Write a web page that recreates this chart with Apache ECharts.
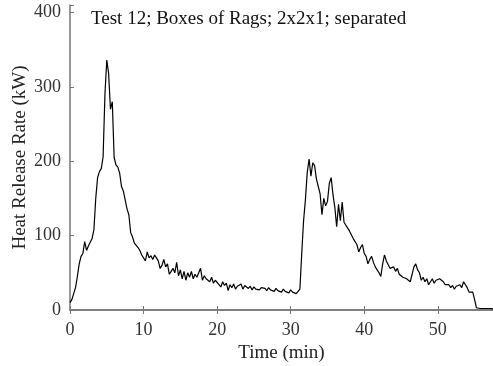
<!DOCTYPE html>
<html>
<head>
<meta charset="utf-8">
<script src="https://cdn.jsdelivr.net/npm/echarts@6/dist/echarts.min.js"></script>
<style>html,body{margin:0;padding:0;background:#fff}#c{width:493px;height:366px}</style>
</head>
<body>
<div id="c"></div>
<script>
const titleText = 'Test 12; Boxes of Rags; 2x2x1; separated';
const xName = 'Time (min)';
const yName = 'Heat Release Rate (kW)';
const xTicks = [0, 10, 20, 30, 40, 50];
const yTicks = [0, 100, 200, 300, 400];

const hrr1 = [ // t = 0 .. 10, step 0.25
  10,14,22,30,45,62,72,76,92,80,86,88,96,108,150,178,186,190,206,290,336,318,270,280,205,195,192,184,166,160,148,136,128,104,98,90,92,84,80,74,76
];
const hrr2 = [ // t = 10.25 .. 20
  66,78,70,73,68,74,70,66,56,60,68,58,62,48,52,56,50,64,46,54,42,52,40,50,44,52,42,48,44,50,56,40,46,42,44,38,44,36,40,42
];
const hrr3 = [ // t = 20.25 .. 31.25
  34,31,38,33,36,26,34,30,35,28,32,30,35,28,33,34,29,32,27,31,28,30,27,30,28,29,26,30,27,28,25,29,26,27,24,28,25,26,23,27,24,26,22,25,28
];
const hrr4 = [ // t = 31.5 .. 42.25
  76,120,148,185,203,180,198,194,176,166,156,128,150,140,146,170,178,155,138,112,142,120,145,118,114,110,106,108,96,92,88,78,84,88,76,72,62,68,72,64,58,54,50,45
];
const hrr5 = [ // t = 42.5 .. 57.5
  62,74,66,64,56,54,58,52,56,48,50,44,46,42,42,38,40,58,62,54,50,40,44,38,42,34,32,42,36,40,38,42,44,38,34,32,34,30,33,28,32,30,34,30,38,36,30,24,26,24,14,3,1,2,1,2,1,2,1,2,1
];

const hrr = hrr1.concat(hrr2, hrr3, hrr4, hrr5);
const data = hrr.map((v, i) => [i * 0.25, v]);

const axisColor = '#777';
const font = 'Liberation Serif';

const chart = echarts.init(document.getElementById('c'), null, {renderer: 'canvas'});
chart.setOption({
  animation: false,
  backgroundColor: '#fff',
  grid: {left: 70, right: 0, top: 5, bottom: 56, containLabel: false, outerBoundsMode: 'none'},
  graphic: [{
    type: 'text', left: 91, top: 10,
    style: {text: titleText, font: '19px "Liberation Serif"', fill: '#111'}
  }],
  xAxis: [{
    type: 'value', min: 0, max: 57.5, interval: 10,
    name: xName, nameLocation: 'middle', nameGap: 34, nameMoveOverlap: false,
    nameTextStyle: {fontFamily: font, fontSize: 19, color: '#222'},
    axisLine: {show: true, onZero: false, lineStyle: {color: axisColor, width: 1.5}},
    axisTick: {show: true, inside: true, length: 4, lineStyle: {color: axisColor}},
    axisLabel: {fontFamily: font, fontSize: 18, color: '#333', margin: 11,
      formatter: v => xTicks.includes(v) ? String(v) : ''},
    splitLine: {show: false}
  }, {
    type: 'value', position: 'top', min: 0, max: 57.5, interval: 10,
    axisLine: {show: true, lineStyle: {color: axisColor, width: 1.5}},
    axisTick: {show: true, inside: true, length: 4, lineStyle: {color: axisColor}},
    axisLabel: {show: false},
    splitLine: {show: false}
  }],
  yAxis: {
    type: 'value', min: 0, max: 410, interval: 100,
    name: yName, nameLocation: 'middle', nameGap: 40, nameMoveOverlap: false,
    nameTextStyle: {fontFamily: font, fontSize: 19, color: '#222'},
    axisLine: {show: true, lineStyle: {color: axisColor, width: 1.5}},
    axisTick: {show: true, inside: true, length: 4, lineStyle: {color: axisColor}},
    axisLabel: {fontFamily: font, fontSize: 18, color: '#333', margin: 9,
      formatter: v => yTicks.includes(v) ? String(v) : ''},
    splitLine: {show: false}
  },
  series: [{
    type: 'line', xAxisIndex: 0, data: data, showSymbol: false,
    lineStyle: {color: '#000', width: 1.2}, clip: true
  }]
});
</script>
</body>
</html>
